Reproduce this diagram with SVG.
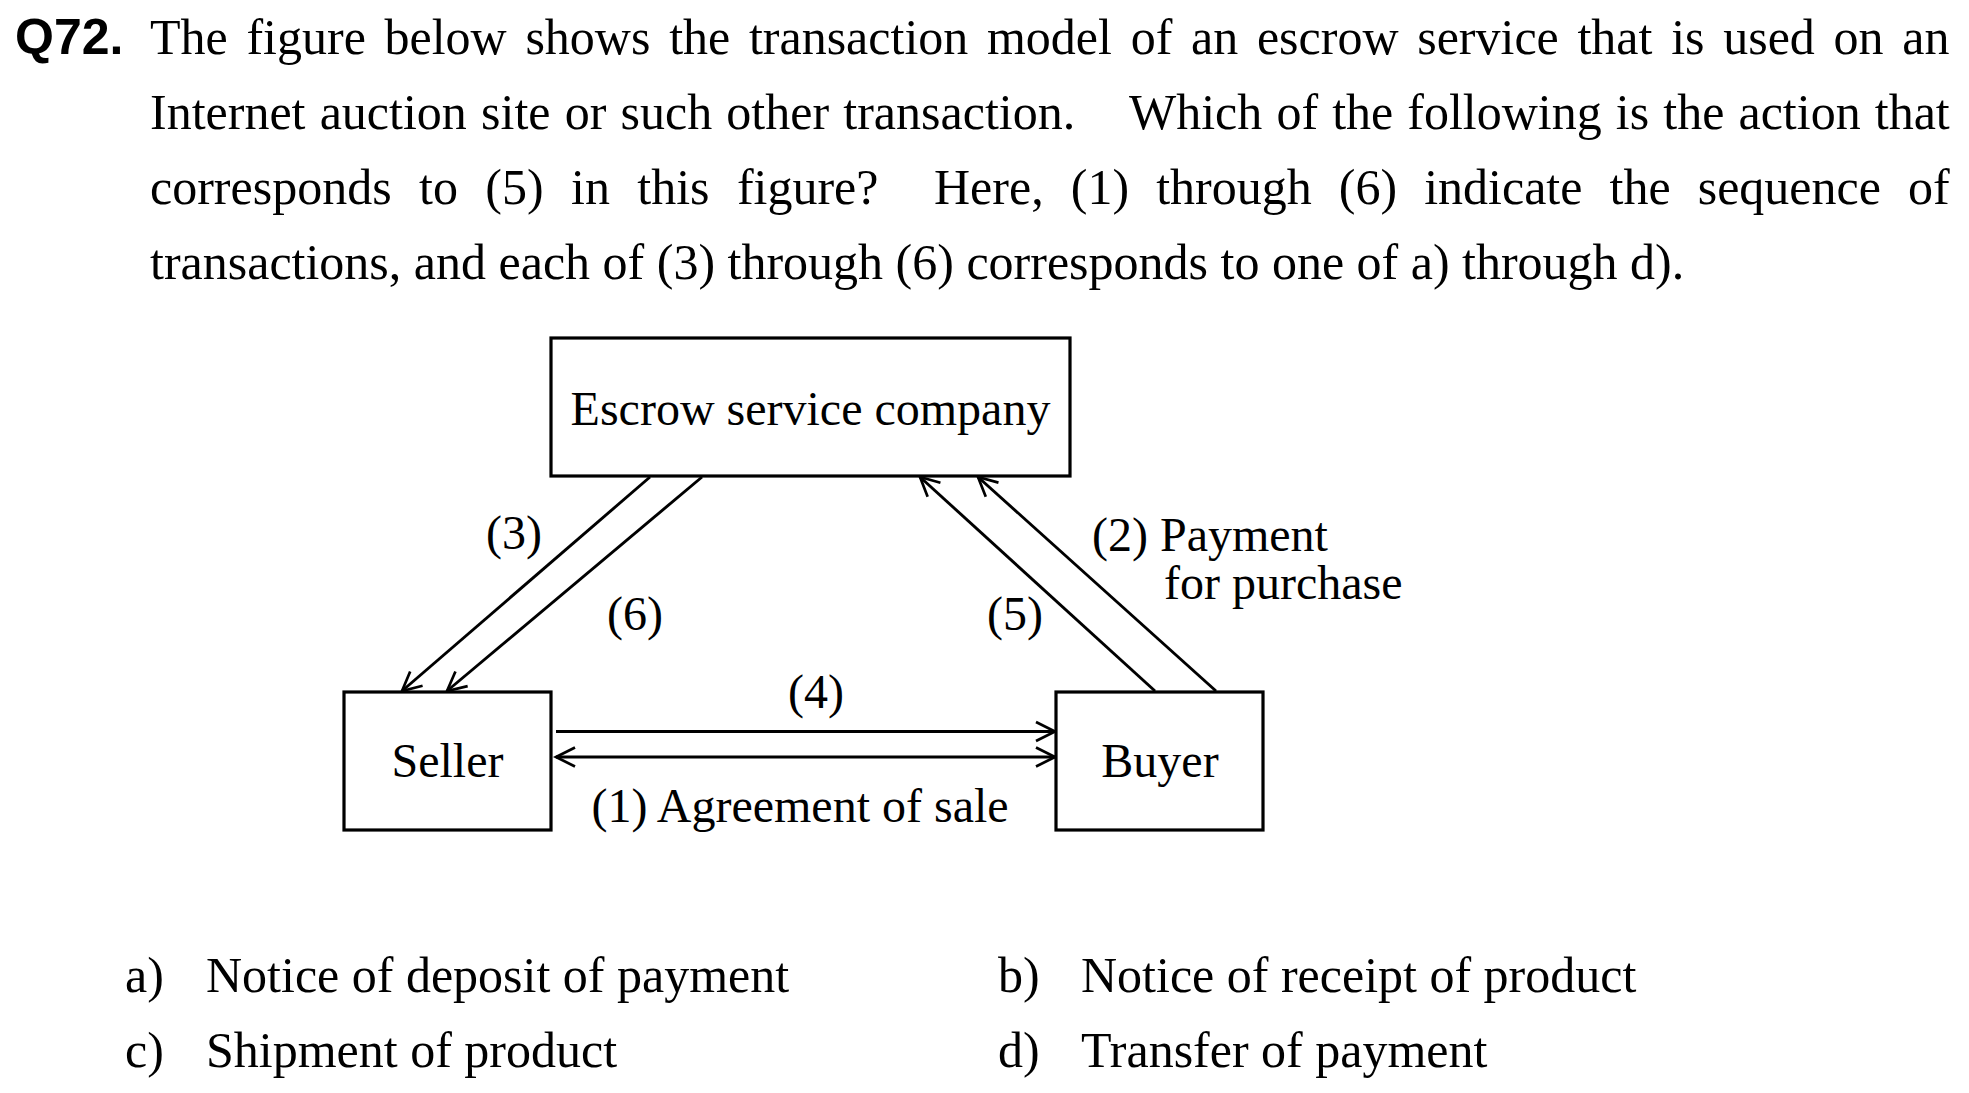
<svg xmlns="http://www.w3.org/2000/svg" width="1969" height="1093" viewBox="0 0 1969 1093">
<style>
  .t { font-family: "Liberation Serif", "Times New Roman", serif; font-size: 50px; fill: #000; }
  .d { font-family: "Liberation Serif", "Times New Roman", serif; font-size: 48px; fill: #000; }
  .q { font-family: "Liberation Sans", Arial, sans-serif; font-size: 50px; font-weight: bold; fill: #000; }
  .box { fill: #fff; stroke: #000; stroke-width: 3.2; }
  .ln { fill: none; stroke: #000; stroke-width: 2.9; }
</style>
<defs>
  <marker id="arr" markerUnits="userSpaceOnUse" markerWidth="30" markerHeight="30" viewBox="-25 -15 30 30" refX="0" refY="0" orient="auto-start-reverse">
    <path d="M-19,-9.5 L0,0 L-19,9.5" fill="none" stroke="#000" stroke-width="2.7"/>
  </marker>
</defs>
<rect width="1969" height="1093" fill="#fff"/>

<g id="question">
  <text class="q" x="15" y="54">Q72.</text>
  <text class="t" x="150" y="54" style="word-spacing:6.2px">The figure below shows the transaction model of an escrow service that is used on an</text>
  <text class="t" y="129"><tspan x="150" style="word-spacing:1.7px">Internet auction site or such other transaction.</tspan><tspan x="1129" style="word-spacing:1.6px">Which of the following is the action that</tspan></text>
  <text class="t" y="204"><tspan x="150" style="word-spacing:14.9px">corresponds to (5) in this figure?</tspan><tspan x="934" style="word-spacing:14.6px">Here, (1) through (6) indicate the sequence of</tspan></text>
  <text class="t" x="150" y="279">transactions, and each of (3) through (6) corresponds to one of a) through d).</text>
</g>

<g id="connectors">
  <line class="ln" x1="650" y1="477" x2="402" y2="691" marker-end="url(#arr)"/>
  <line class="ln" x1="702" y1="477" x2="447" y2="691" marker-end="url(#arr)"/>
  <line class="ln" x1="1155" y1="691" x2="920" y2="477" marker-end="url(#arr)"/>
  <line class="ln" x1="1216" y1="691" x2="978" y2="477" marker-end="url(#arr)"/>
  <line class="ln" x1="556" y1="731.5" x2="1055" y2="731.5" marker-end="url(#arr)"/>
  <line class="ln" x1="556" y1="757" x2="1055" y2="757" marker-start="url(#arr)" marker-end="url(#arr)"/>
</g>

<g id="node-escrow">
  <rect class="box" x="551" y="338" width="519" height="138"/>
  <text class="d" x="810.5" y="425" text-anchor="middle">Escrow service company</text>
</g>
<g id="node-seller">
  <rect class="box" x="344" y="692" width="207" height="138"/>
  <text class="d" x="447.5" y="777" text-anchor="middle">Seller</text>
</g>
<g id="node-buyer">
  <rect class="box" x="1056" y="692" width="207" height="138"/>
  <text class="d" x="1160" y="777" text-anchor="middle">Buyer</text>
</g>

<g id="connector-labels">
  <text class="d" x="514" y="549" text-anchor="middle">(3)</text>
  <text class="d" x="635" y="630" text-anchor="middle">(6)</text>
  <text class="d" x="1015" y="630" text-anchor="middle">(5)</text>
  <text class="d" x="816" y="708" text-anchor="middle">(4)</text>
  <text class="d" x="800" y="822" text-anchor="middle">(1) Agreement of sale</text>
  <text class="d" x="1092" y="551">(2) Payment</text>
  <text class="d" x="1164" y="599">for purchase</text>
</g>

<g id="options">
  <text class="t" x="125" y="992">a)</text>
  <text class="t" x="206" y="992">Notice of deposit of payment</text>
  <text class="t" x="998" y="992">b)</text>
  <text class="t" x="1081" y="992">Notice of receipt of product</text>
  <text class="t" x="125" y="1067">c)</text>
  <text class="t" x="206" y="1067">Shipment of product</text>
  <text class="t" x="998" y="1067">d)</text>
  <text class="t" x="1081" y="1067">Transfer of payment</text>
</g>
</svg>
